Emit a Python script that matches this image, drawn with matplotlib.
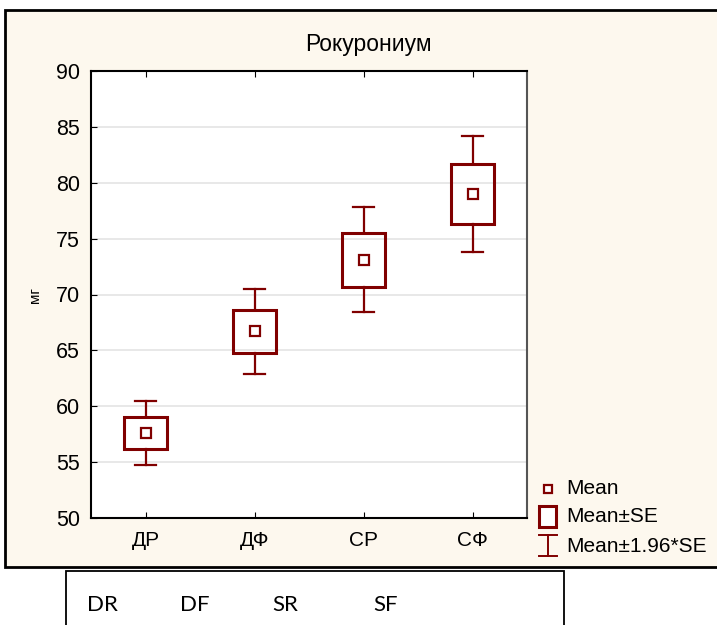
import matplotlib.pyplot as plt
from matplotlib.patches import Rectangle

# data
groups = ["ДР", "ДФ", "СР", "СФ"]
means = [57.6, 66.7, 73.1, 79.0]
se = [1.45, 1.93, 2.4, 2.66]
codes = ["DR", "DF", "SR", "SF"]

red = "#800000"
cream = "#fdf8ee"
plt.rcParams['font.family'] = ['Liberation Sans', 'DejaVu Sans']

fig = plt.figure(figsize=(7.17, 6.25), dpi=100)

# overlay in pixel coords for frame, legend and lower box
bg = fig.add_axes([0, 0, 1, 1], zorder=0)
bg.set_xlim(0, 717)
bg.set_ylim(625, 0)
bg.axis("off")
bg.add_patch(Rectangle((5, 10), 730, 557, facecolor=cream, edgecolor="black", lw=2))
bg.add_patch(Rectangle((66, 571), 498, 80, facecolor="white", edgecolor="black", lw=1.3))
for lab, x in zip(codes, [87, 180, 272, 373]):
    bg.text(x, 605, lab, fontsize=16, va="center", ha="left", family=["Lato", "DejaVu Sans"])

bg.text(368, 45, "Рокурониум", fontsize=16.5, ha="center", va="center")
bg.text(35, 295, "мг", fontsize=11, rotation=90, ha="center", va="center")

# legend
bg.plot([548], [489], marker="s", ms=6, mfc="white", mec=red, mew=1.6)
bg.add_patch(Rectangle((539, 506), 17, 21, facecolor="white", edgecolor=red, lw=2.2))
bg.plot([548, 548], [535, 556], color=red, lw=1.4)
bg.plot([539, 557], [535, 535], color=red, lw=1.4)
bg.plot([539, 557], [556, 556], color=red, lw=1.4)
for lab, y in zip(["Mean", "Mean±SE", "Mean±1.96*SE"], [489, 517, 546]):
    bg.text(566, y, lab, fontsize=15, va="center", ha="left")

ax = fig.add_axes([91 / 717, 1 - 518 / 625, 436 / 717, 447 / 625], zorder=1)
ax.set_facecolor("white")
x = range(len(groups))
for i, m, s in zip(x, means, se):
    lo, hi = m - 1.96 * s, m + 1.96 * s
    ax.plot([i, i], [lo, m - s], color=red, lw=1.6, zorder=2)
    ax.plot([i, i], [m + s, hi], color=red, lw=1.6, zorder=2)
    ax.plot([i - 0.1, i + 0.1], [lo, lo], color=red, lw=1.6, zorder=2)
    ax.plot([i - 0.1, i + 0.1], [hi, hi], color=red, lw=1.6, zorder=2)
    ax.add_patch(Rectangle((i - 0.2, m - s), 0.4, 2 * s, facecolor="none",
                           edgecolor=red, lw=2.2, zorder=3))
ax.plot(list(x), means, ls="none", marker="s", ms=6.5, mfc="white", mec=red, mew=1.6, zorder=4)

ax.set_xlim(-0.5, 3.5)
ax.set_ylim(50, 90)
ax.set_xticks(list(x))
ax.set_xticklabels(groups)
ax.set_yticks(range(50, 91, 5))
ax.yaxis.grid(True, color="#e4e4e4", lw=1.2)
ax.set_axisbelow(True)
ax.tick_params(axis="x", direction="in", top=True, length=4, labelsize=15, pad=9)
ax.tick_params(axis="y", direction="in", length=4, labelsize=15.5, pad=8)
for sp in ax.spines.values():
    sp.set_linewidth(1.5)
ax.spines["right"].set_color("#555555")

fig.savefig("out.png", dpi=100)
